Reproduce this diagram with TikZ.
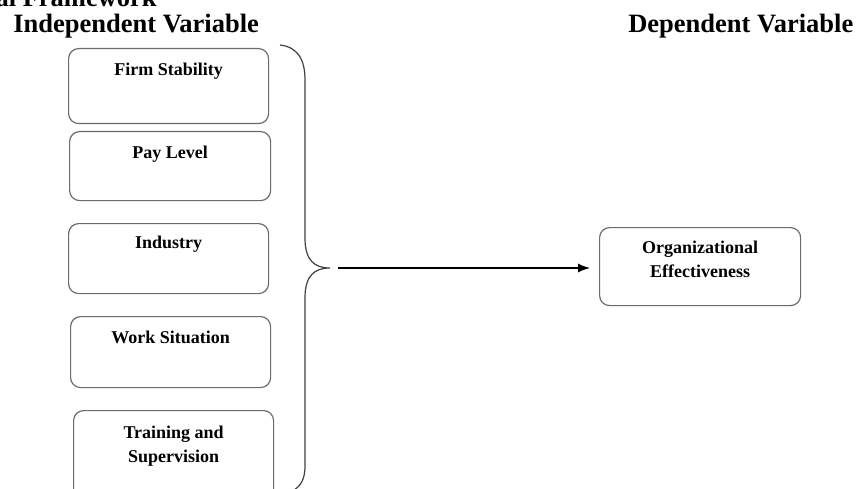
\documentclass[tikz,border=0pt]{standalone}
\usepackage{fontspec}
\setmainfont{Liberation Serif}
\usetikzlibrary{arrows.meta}

\begin{document}
\begin{tikzpicture}[
        x=1pt,y=-1pt,
        every path/.style={semithick},
        heading/.style={anchor=base west,inner sep=0pt,font=\fontsize{26.5}{30}\selectfont\bfseries},
        factor/.style={draw=black!58,line width=1.2pt,rounded corners=10pt,anchor=north west,
            inner sep=0pt,minimum width=200pt,align=center,
            font=\fontsize{18}{24}\selectfont\bfseries}
    ]
    \useasboundingbox (0,0) rectangle (858,489);

    % headings
    \node [heading,anchor=base east] (title) at (157,7) {al Framework};
    \node [heading] (indep) at (13,33) {Independent Variable};
    \node [heading] (dep) at (628,33) {Dependent Variable};

    % independent variables
    \node [factor,text height=27pt,text depth=48pt] (stability) at (68,48) {Firm Stability};
    \node [factor,text height=27pt,text depth=42pt,minimum width=201pt] (pay) at (69,131) {Pay Level};
    \node [factor,text height=25pt,text depth=45pt] (industry) at (68,223) {Industry};
    \node [factor,text height=27pt,text depth=44pt] (work) at (70,316) {Work Situation};
    \node [factor,text height=52pt,text depth=42pt] (training) at (73,410) {Training and\\Supervision};

    % dependent variable
    \node [factor,text height=50pt,text depth=28pt,minimum width=201pt] (effect) at (599,227)
        {Organizational\\Effectiveness};

    % brace
    \coordinate (tip) at (330,268);
    \draw [black!75,line width=1.2pt] (280,45)
        .. controls (298,47) and (305,60) .. (305,80)
        -- (305,238)
        .. controls (305,260) and (314,268) .. (tip)
        .. controls (314,268) and (305,276) .. (305,298)
        -- (305,466)
        .. controls (305,482) and (299,489) .. (286,494)
    ;

    \draw [-{Latex[length=12pt,width=9pt]},line width=1.3pt,shorten <=8pt,shorten >=9pt] (tip) -- (tip -| effect.west);
\end{tikzpicture}
\end{document}
